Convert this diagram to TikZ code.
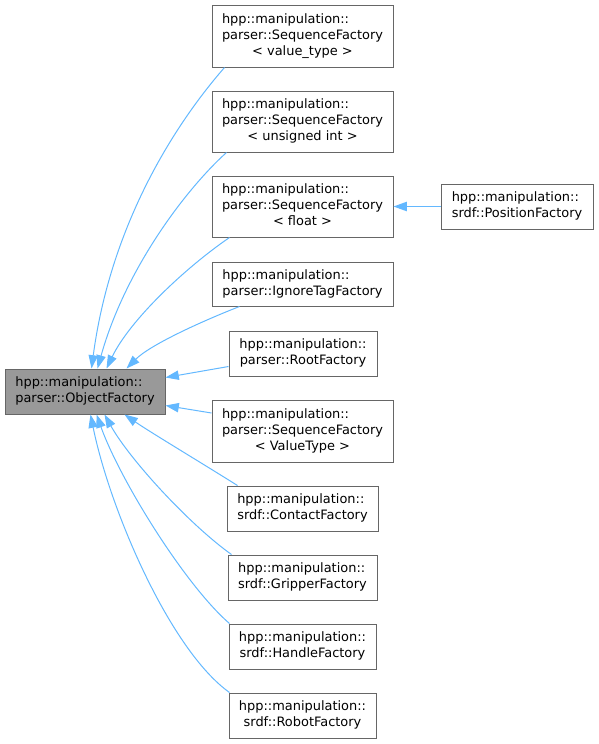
\documentclass[tikz,border=0pt]{standalone}
\usepackage{fontspec}
\setmainfont{DejaVu Sans}
\usetikzlibrary{calc,arrows.meta}
\definecolor{edgeblue}{HTML}{63B8FF}
\definecolor{boxgray}{HTML}{666666}
\definecolor{fillgray}{HTML}{999999}
\newcommand{\twol}[2]{\begin{tabular}{@{}l@{}}#1\\\multicolumn{1}{@{}c@{}}{#2}\end{tabular}}
\newcommand{\threel}[3]{\begin{tabular}{@{}l@{}}#1\\#2\\\multicolumn{1}{@{}c@{}}{#3}\end{tabular}}
\tikzset{
  cls/.style={draw=boxgray, line width=0.75pt, fill=white, inner sep=0pt,
    font=\fontsize{9.7}{12}\selectfont, text=black},
  sz/.style n args={2}{minimum width=#1*0.75pt, minimum height=#2*0.75pt},
  inh/.style={draw=edgeblue, line width=0.75pt,
    -{Triangle[length=10pt,width=7pt,fill=edgeblue]}}
}
\begin{document}
\begin{tikzpicture}[x=0.75pt,y=-0.75pt]
\useasboundingbox (0,0) rectangle (599,744);
\node[cls, fill=fillgray, sz={160}{45}] (OF) at (85,391.5) {\twol{hpp::manipulation::}{parser::ObjectFactory}};
\node[cls, sz={181}{62}] (V) at (302.5,36) {\threel{hpp::manipulation::}{parser::SequenceFactory}{< value\_type >}};
\node[cls, sz={181}{61}] (U) at (302.5,121.5) {\threel{hpp::manipulation::}{parser::SequenceFactory}{< unsigned int >}};
\node[cls, sz={181}{61}] (F) at (302.5,206.5) {\threel{hpp::manipulation::}{parser::SequenceFactory}{< float >}};
\node[cls, sz={152}{45}] (P) at (517,206.5) {\twol{hpp::manipulation::}{srdf::PositionFactory}};
\node[cls, sz={181}{44}] (I) at (302.5,284) {\twol{hpp::manipulation::}{parser::IgnoreTagFactory}};
\node[cls, sz={148}{45}] (R) at (303,353.5) {\twol{hpp::manipulation::}{parser::RootFactory}};
\node[cls, sz={181}{62}] (VT) at (302.5,431) {\threel{hpp::manipulation::}{parser::SequenceFactory}{< ValueType >}};
\node[cls, sz={151}{45}] (C) at (302.5,508.5) {\twol{hpp::manipulation::}{srdf::ContactFactory}};
\node[cls, sz={149}{45}] (G) at (302.5,577.5) {\twol{hpp::manipulation::}{srdf::GripperFactory}};
\node[cls, sz={147}{45}] (H) at (302.5,646.5) {\twol{hpp::manipulation::}{srdf::HandleFactory}};
\node[cls, sz={147}{45}] (Rb) at (302.5,715.5) {\twol{hpp::manipulation::}{srdf::RobotFactory}};
% edges
\draw[inh] (P.west) -- (F.east);
\draw[inh] ($(V.south west)+(13,0)$) .. controls (170,130) and (110,230) .. ($(OF.north west)+(87,0)$);
\draw[inh] ($(U.south west)+(15,0)$) .. controls (185,190) and (125,270) .. ($(OF.north west)+(93,0)$);
\draw[inh] ($(F.south west)+(18,0)$) .. controls (185,268) and (130,320) .. ($(OF.north west)+(102,0)$);
\draw[inh] ($(I.south west)+(28,0)$) .. controls (200,322) and (150,345) .. ($(OF.north west)+(122,0)$);
\draw[inh] ($(R.west)+(0,13)$) -- ($(OF.east)+(0,-14)$);
\draw[inh] ($(VT.west)+(0,-18)$) -- ($(OF.east)+(0,14)$);
\draw[inh] ($(C.north west)+(11,0)$) .. controls (200,462) and (150,432) .. ($(OF.south west)+(120,0)$);
\draw[inh] ($(G.north west)+(4,0)$) .. controls (190,525) and (130,460) .. ($(OF.south west)+(100,0)$);
\draw[inh] ($(H.north west)+(1,0)$) .. controls (185,585) and (120,480) .. ($(OF.south west)+(92,0)$);
\draw[inh] ($(Rb.north west)+(1,0)$) .. controls (170,650) and (110,510) .. ($(OF.south west)+(86,0)$);
\end{tikzpicture}
\end{document}
